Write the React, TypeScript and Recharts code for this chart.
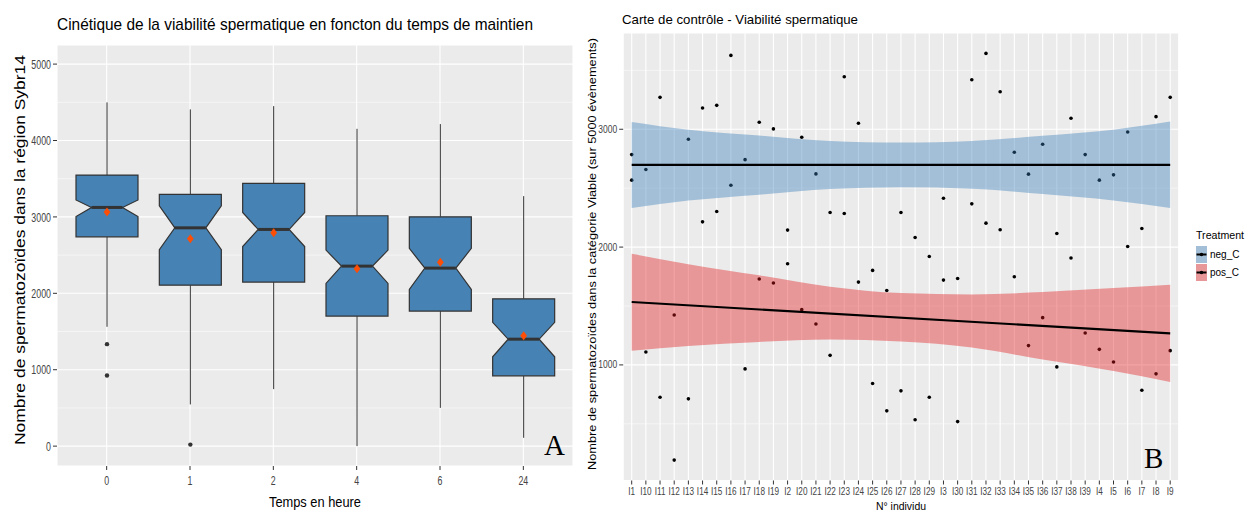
import React from 'react';
import { ComposedChart, Bar, XAxis, YAxis, CartesianGrid, Scatter, Line, Area } from 'recharts';

// ---------- Panel A : boxplots ----------
const timeCategories = ['0', '1', '2', '4', '6', '24'];
const whiskerLow = [1562, 546, 746, 0, 501, 109];
const q1Values = [2740, 2107, 2147, 1702, 1767, 920];
const medianValues = [3124, 2857, 2836, 2356, 2330, 1400];
const q3Values = [3547, 3294, 3438, 3015, 3001, 1928];
const whiskerHigh = [4499, 4407, 4450, 4153, 4215, 3272];
const notchLow = [3005, 2570, 2613, 2130, 2052, 1170];
const notchHigh = [3222, 3145, 3059, 2566, 2588, 1620];
const meanValues = [3063, 2714, 2792, 2321, 2408, 1444];
const outlierTimes = ['0', '0', '1'];
const outlierValues = [1335, 925, 20];
const yTicksA = [0, 1000, 2000, 3000, 4000, 5000];
const yMinorA = [500, 1500, 2500, 3500, 4500];

// ---------- Panel B : control chart ----------
const individuals = [
  'I1', 'I10', 'I11', 'I12', 'I13', 'I14', 'I15', 'I16', 'I17', 'I18', 'I19',
  'I2', 'I20', 'I21', 'I22', 'I23', 'I24', 'I25', 'I26', 'I27', 'I28', 'I29',
  'I3', 'I30', 'I31', 'I32', 'I33', 'I34', 'I35', 'I36', 'I37', 'I38', 'I39',
  'I4', 'I5', 'I6', 'I7', 'I8', 'I9',
];
const negCValues = [
  2785, 2658, 3271, 1424, 2915, 3180, 3203, 3627, 2742, 3059, 3003,
  2144, 2932, 2621, 2294, 3446, 3051, 1802, 1632, 2294, 2081, 1920,
  2415, 1734, 3420, 3644, 3319, 2805, 2619, 2873, 2115, 3093, 2785,
  2568, 2613, 2977, 2158, 3107, 3271,
];
const posCValues = [
  2568, 1110, 725, 192, 712, 2214, 2302, 2525, 966, 1729, 1695,
  1859, 1469, 1347, 1081, 2285, 1703, 842, 610, 780, 534, 725,
  1720, 519, 2367, 2203, 2147, 1748, 1164, 1401, 983, 1907, 1271,
  1132, 1025, 2005, 785, 924, 1121,
];
const bandIndex = [0, 4, 9, 14, 19, 24, 29, 34, 38];
const negBandHigh = [3062, 2996, 2947, 2901, 2887, 2901, 2945, 2996, 3065];
const negBandLow = [2331, 2395, 2445, 2494, 2508, 2496, 2450, 2395, 2331];
const posBandHigh = [1943, 1855, 1760, 1664, 1610, 1598, 1618, 1652, 1681];
const posBandLow = [1121, 1160, 1195, 1216, 1198, 1148, 1045, 948, 856];
const negFit = [2697, 2697];
const posFit = [1534, 1268];
const yTicksB = [1000, 2000, 3000];
const yMinorB = [500, 1500, 2500, 3500];

const SANS = "'Liberation Sans', Arial, sans-serif";
const SERIF = "'Liberation Serif', 'Times New Roman', serif";

const rowsA = timeCategories.map((t, i) => ({
  time: t,
  range: [whiskerLow[i], whiskerHigh[i]],
  lo: whiskerLow[i],
  hi: whiskerHigh[i],
  q1: q1Values[i],
  med: medianValues[i],
  q3: q3Values[i],
  nlo: notchLow[i],
  nhi: notchHigh[i],
  mean: meanValues[i],
  outliers: outlierValues.filter((_, k) => outlierTimes[k] === t),
}));

const last = individuals.length - 1;
const rowsB = individuals.map((name, i) => {
  const b = bandIndex.indexOf(i);
  return {
    idx: i,
    negBand: b >= 0 ? [negBandLow[b], negBandHigh[b]] : null,
    posBand: b >= 0 ? [posBandLow[b], posBandHigh[b]] : null,
    negFitV: i === 0 ? negFit[0] : i === last ? negFit[1] : null,
    posFitV: i === 0 ? posFit[0] : i === last ? posFit[1] : null,
  };
});
const negPoints = individuals.map((_, i) => ({ idx: i, value: negCValues[i] }));
const posPoints = individuals.map((_, i) => ({ idx: i, value: posCValues[i] }));

const BoxShape = (props: any) => {
  const { x, y, width, height, payload } = props;
  const top = Math.min(y, y + height);
  const bottom = Math.max(y, y + height);
  const hi = payload.hi;
  const lo = payload.lo;
  const py = (v: number) => top + ((bottom - top) * (hi - v)) / (hi - lo);
  const cx = x + width / 2;
  const l = x;
  const r = x + width;
  const n = width / 4;
  const pts = [
    [l, py(payload.q3)], [r, py(payload.q3)], [r, py(payload.nhi)], [cx + n, py(payload.med)],
    [r, py(payload.nlo)], [r, py(payload.q1)], [l, py(payload.q1)], [l, py(payload.nlo)],
    [cx - n, py(payload.med)], [l, py(payload.nhi)],
  ].map((p) => p.join(',')).join(' ');
  const my = py(payload.mean);
  return (
    <g>
      <line x1={cx} x2={cx} y1={py(hi)} y2={py(payload.q3)} stroke="#333333" strokeWidth={1} />
      <line x1={cx} x2={cx} y1={py(payload.q1)} y2={py(lo)} stroke="#333333" strokeWidth={1} />
      <polygon points={pts} fill="#4682B4" stroke="#333333" strokeWidth={1.2} />
      <line x1={cx - n} x2={cx + n} y1={py(payload.med)} y2={py(payload.med)} stroke="#333333" strokeWidth={3} />
      {payload.outliers.map((v: number, k: number) => (
        <circle key={k} cx={cx} cy={py(v)} r={2.2} fill="#333333" />
      ))}
      <polygon points={`${cx},${my - 4.5} ${cx + 3.4},${my} ${cx},${my + 4.5} ${cx - 3.4},${my}`} fill="#FC4E07" />
    </g>
  );
};

const dot = (p: any) => <circle cx={p.cx} cy={p.cy} r={1.8} fill="#000000" />;

const makeTick = (size: number, sx: number, axis: 'x' | 'y', fmt?: (v: any) => string) => (p: any) => {
  const label = fmt ? fmt(p.payload.value) : String(p.payload.value);
  return (
    <g transform={`translate(${p.x},${p.y})`}>
      <text transform={`scale(${sx},1)`} textAnchor={axis === 'y' ? 'end' : 'middle'}
        dy={axis === 'y' ? '0.355em' : '0.71em'} fontFamily={SANS} fontSize={size} fill="#444444">
        {label}
      </text>
    </g>
  );
};

const tickAy = makeTick(13, 0.68, 'y');
const tickAx = makeTick(13, 0.68, 'x');
const tickBy = makeTick(10, 0.85, 'y');
const tickBx = makeTick(10, 0.82, 'x', (v: number) => individuals[v]);

export default function App() {
  return (
    <div style={{ position: 'absolute', left: 0, top: 0, width: 1245, height: 511, background: '#ffffff', overflow: 'hidden' }}>
      <div style={{ position: 'absolute', left: 0, top: 0 }}>
        <ComposedChart width={600} height={511} data={rowsA} margin={{ top: 45, right: 27, bottom: 15, left: 0 }} barSize={62}>
          <CartesianGrid fill="#EBEBEB" stroke="#FFFFFF" strokeWidth={1.1} strokeOpacity={1} />
          <CartesianGrid horizontalValues={yMinorA} vertical={false} stroke="#FFFFFF" strokeWidth={0.5} fill="none" />
          <XAxis dataKey="time" type="category" padding={{ left: 8, right: 8 }} height={30} axisLine={false}
            tickLine={{ stroke: '#333333' }} tickSize={4} tickMargin={6} tick={tickAx} interval={0} />
          <YAxis type="number" domain={[-260, 5250]} ticks={yTicksA} width={57} axisLine={false}
            tickLine={{ stroke: '#333333' }} tickSize={4} tickMargin={2} tick={tickAy} allowDataOverflow interval={0} />
          <Bar dataKey="range" shape={BoxShape} isAnimationActive={false} />
        </ComposedChart>
      </div>
      <div style={{ position: 'absolute', left: 580, top: 0 }}>
        <ComposedChart width={665} height={511} data={rowsB} margin={{ top: 33, right: 66.3, bottom: 5.5, left: 0 }}>
          <CartesianGrid fill="#EBEBEB" stroke="#FFFFFF" strokeWidth={1.1} strokeOpacity={1} />
          <CartesianGrid horizontalValues={yMinorB} vertical={false} stroke="#FFFFFF" strokeWidth={0.5} fill="none" />
          <XAxis dataKey="idx" type="number" domain={[-0.6, 38.6]} ticks={individuals.map((_, i) => i)}
            interval={0} height={25} axisLine={false}
            tickLine={{ stroke: '#333333' }} tickSize={4} tickMargin={3} tick={tickBx} allowDataOverflow />
          <YAxis type="number" domain={[19, 3817]} ticks={yTicksB} width={43.2} axisLine={false}
            tickLine={{ stroke: '#333333' }} tickSize={4} tickMargin={2} tick={tickBy} allowDataOverflow interval={0} />
          <Scatter data={negPoints} dataKey="value" shape={dot} isAnimationActive={false} />
          <Scatter data={posPoints} dataKey="value" shape={dot} isAnimationActive={false} />
        </ComposedChart>
      </div>
      <div style={{ position: 'absolute', left: 580, top: 0 }}>
        <ComposedChart width={665} height={511} data={rowsB} margin={{ top: 33, right: 66.3, bottom: 30.5, left: 43.2 }}>
          <XAxis dataKey="idx" type="number" domain={[-0.6, 38.6]} hide allowDataOverflow />
          <YAxis type="number" domain={[19, 3817]} hide allowDataOverflow />
          <Area dataKey="negBand" type="monotone" connectNulls stroke="none" fill="#377EB8" fillOpacity={0.4} isAnimationActive={false} />
          <Area dataKey="posBand" type="monotone" connectNulls stroke="none" fill="#E41A1C" fillOpacity={0.4} isAnimationActive={false} />
          <Line dataKey="negFitV" connectNulls stroke="#000000" strokeWidth={2.3} dot={false} isAnimationActive={false} />
          <Line dataKey="posFitV" connectNulls stroke="#000000" strokeWidth={2.1} dot={false} isAnimationActive={false} />
        </ComposedChart>
      </div>
      <svg width={1245} height={511} style={{ position: 'absolute', left: 0, top: 0, pointerEvents: 'none' }}>
        <text x={57} y={30} fontFamily={SANS} fontSize={17} fill="#000" textLength={476} lengthAdjust="spacingAndGlyphs">
          Cinétique de la viabilité spermatique en foncton du temps de maintien
        </text>
        <text x={622} y={24} fontFamily={SANS} fontSize={13.5} fill="#000" textLength={236} lengthAdjust="spacingAndGlyphs">
          Carte de contrôle - Viabilité spermatique
        </text>
        <text transform="translate(24.5,250) rotate(-90)" textAnchor="middle" fontFamily={SANS} fontSize={15.5} fill="#000"
          textLength={390} lengthAdjust="spacingAndGlyphs">
          Nombre de spermatozoïdes dans la région Sybr14
        </text>
        <text transform="translate(596,254) rotate(-90)" textAnchor="middle" fontFamily={SANS} fontSize={11.5} fill="#000"
          textLength={432} lengthAdjust="spacingAndGlyphs">
          Nombre de spermatozoïdes dans la catégorie Viable (sur 5000 évènements)
        </text>
        <text x={315} y={507} textAnchor="middle" fontFamily={SANS} fontSize={15} fill="#000" textLength={92} lengthAdjust="spacingAndGlyphs">
          Temps en heure
        </text>
        <text x={901} y={510} textAnchor="middle" fontFamily={SANS} fontSize={11.5} fill="#000" textLength={50} lengthAdjust="spacingAndGlyphs">
          N° individu
        </text>
        <text x={544} y={455} fontFamily={SERIF} fontSize={29} fill="#000">A</text>
        <text x={1144} y={468} fontFamily={SERIF} fontSize={29} fill="#000">B</text>
        <text x={1196} y={239} fontFamily={SANS} fontSize={11} fill="#000" textLength={48} lengthAdjust="spacingAndGlyphs">Treatment</text>
        <rect x={1196} y={246} width={11} height={17} fill="#EBEBEB" />
        <rect x={1196} y={246} width={11} height={17} fill="#377EB8" fillOpacity={0.4} />
        <line x1={1196.5} x2={1206.5} y1={254.5} y2={254.5} stroke="#000" strokeWidth={2} />
        <circle cx={1201.5} cy={254.5} r={1.8} fill="#000" />
        <rect x={1196} y={264} width={11} height={17} fill="#EBEBEB" />
        <rect x={1196} y={264} width={11} height={17} fill="#E41A1C" fillOpacity={0.4} />
        <line x1={1196.5} x2={1206.5} y1={272.5} y2={272.5} stroke="#000" strokeWidth={2} />
        <circle cx={1201.5} cy={272.5} r={1.8} fill="#000" />
        <text x={1210} y={258} fontFamily={SANS} fontSize={10} fill="#000">neg_C</text>
        <text x={1210} y={276} fontFamily={SANS} fontSize={10} fill="#000">pos_C</text>
      </svg>
    </div>
  );
}
